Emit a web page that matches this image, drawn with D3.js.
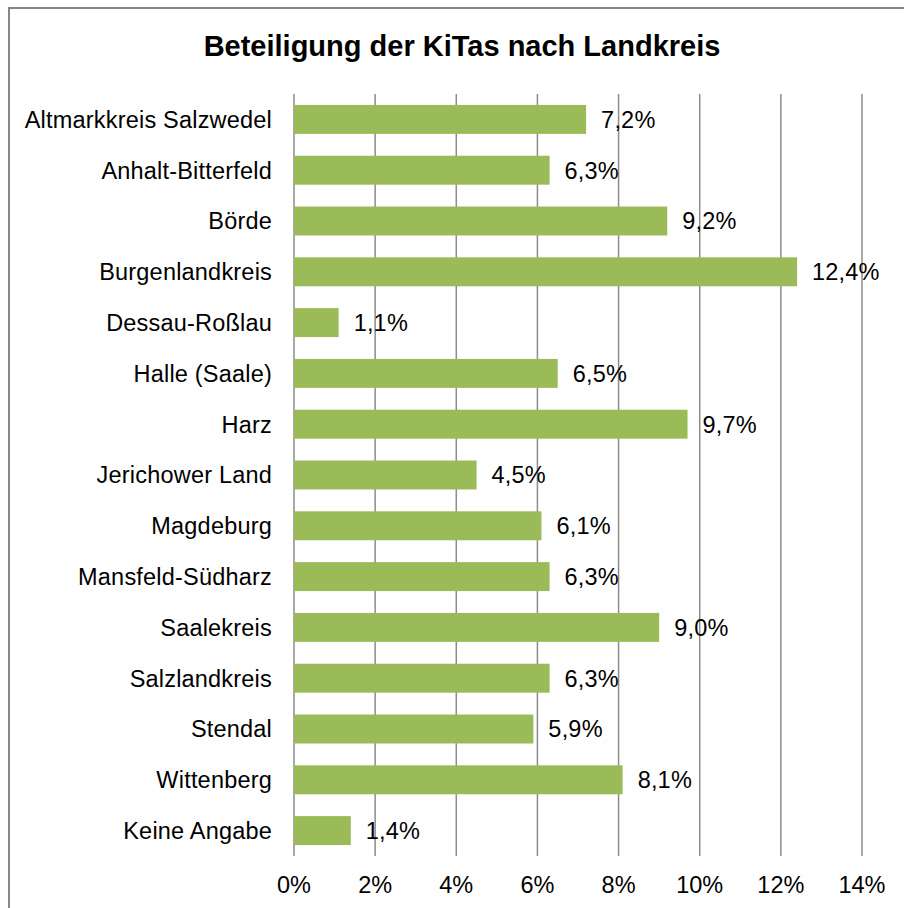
<!DOCTYPE html>
<html>
<head>
<meta charset="utf-8">
<script src="https://cdn.jsdelivr.net/npm/d3@7"></script>
<style>
  body { margin: 0; background: #fff; }
  text { font-family: "Liberation Sans", Arial, sans-serif; fill: #000; }
</style>
</head>
<body>
<svg id="chart" width="904" height="908"></svg>
<script>
const categories = [
  'Altmarkkreis Salzwedel', 'Anhalt-Bitterfeld', 'Börde', 'Burgenlandkreis',
  'Dessau-Roßlau', 'Halle (Saale)', 'Harz', 'Jerichower Land', 'Magdeburg',
  'Mansfeld-Südharz', 'Saalekreis', 'Salzlandkreis', 'Stendal', 'Wittenberg',
  'Keine Angabe'
]
const values = [7.2, 6.3, 9.2, 12.4, 1.1, 6.5, 9.7, 4.5, 6.1, 6.3, 9.0, 6.3, 5.9, 8.1, 1.4]
const tickValues = [0, 2, 4, 6, 8, 10, 12, 14]
const title = 'Beteiligung der KiTas nach Landkreis'

const c = {
  width: 904,
  height: 908,
  margin: { left: 294, right: 42, top: 94, bottom: 52 },
  barColor: '#9bbb59',
  gridColor: '#8c8c8c',
  fontSize: 23.5
}

const svg = d3.select('#chart')

// Frame
svg.append('rect')
  .attr('x', 9).attr('y', 8)
  .attr('width', c.width).attr('height', c.height)
  .attr('fill', 'none')
  .attr('stroke', '#868686')
  .attr('stroke-width', 2)

svg.append('text')
  .attr('x', 462).attr('y', 56)
  .attr('text-anchor', 'middle')
  .attr('font-size', 29)
  .attr('font-weight', 'bold')
  .text(title)

const xScale = d3.scaleLinear([0, 14], [c.margin.left, c.width - c.margin.right])
const yScale = d3.scaleBand(categories, [c.margin.top, c.height - c.margin.bottom])
  .paddingInner(0.43)
  .paddingOuter(0.215)

// Gridlines
svg.append('g')
  .selectAll('line')
  .data(tickValues)
  .join('line')
  .attr('x1', (d) => xScale(d))
  .attr('x2', (d) => xScale(d))
  .attr('y1', c.margin.top)
  .attr('y2', c.height - c.margin.bottom)
  .attr('stroke', c.gridColor)
  .attr('stroke-width', 1.5)

// Bars
svg.append('g')
  .selectAll('rect')
  .data(values)
  .join('rect')
  .attr('x', xScale(0))
  .attr('y', (d, i) => yScale(categories[i]))
  .attr('width', (d) => xScale(d) - xScale(0))
  .attr('height', yScale.bandwidth())
  .attr('fill', c.barColor)

const fmt = (d) => d.toFixed(1).replace('.', ',') + '%'

// Value labels
svg.append('g')
  .selectAll('text')
  .data(values)
  .join('text')
  .attr('x', (d) => xScale(d) + 15)
  .attr('y', (d, i) => yScale(categories[i]) + yScale.bandwidth() / 2)
  .attr('dy', '0.36em')
  .attr('font-size', c.fontSize)
  .attr('letter-spacing', 0.2)
  .text(fmt)

// Category labels
svg.append('g')
  .selectAll('text')
  .data(categories)
  .join('text')
  .attr('x', c.margin.left - 22)
  .attr('y', (d) => yScale(d) + yScale.bandwidth() / 2)
  .attr('dy', '0.36em')
  .attr('text-anchor', 'end')
  .attr('font-size', c.fontSize)
  .attr('letter-spacing', 0.2)
  .text((d) => d)

// X tick labels
svg.append('g')
  .selectAll('text')
  .data(tickValues)
  .join('text')
  .attr('x', (d) => xScale(d))
  .attr('y', 893)
  .attr('text-anchor', 'middle')
  .attr('font-size', c.fontSize)
  .text((d) => d + '%')
</script>
</body>
</html>
